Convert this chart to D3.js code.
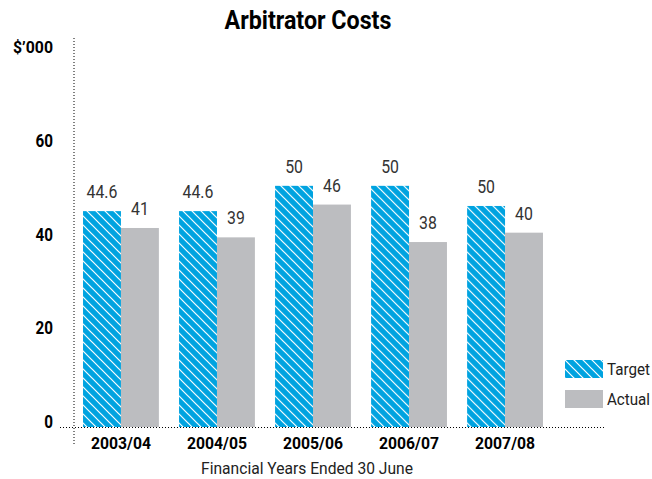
<!DOCTYPE html>
<html>
<head>
<meta charset="utf-8">
<script src="https://cdn.jsdelivr.net/npm/d3@7"></script>
<style>
  body { margin: 0; background: #fff; }
  text { font-family: "Roboto", "Liberation Sans", sans-serif; }
</style>
</head>
<body>
<div id="chart"></div>
<script>
// data
const years = ['2003/04', '2004/05', '2005/06', '2006/07', '2007/08'];
const targetValues = [44.6, 44.6, 50, 50, 45.7];   // bar heights as drawn
const targetLabels = ['44.6', '44.6', '50', '50', '50'];
const actualValues = [41, 39, 46, 38, 40];
const actualLabels = ['41', '39', '46', '38', '40'];
const yTicks = [0, 20, 40, 60];
const seriesNames = ['Target', 'Actual'];

const width = 652, height = 479;
const blue = '#00a3e0', grey = '#bcbdc0';

const svg = d3.select('#chart').append('svg')
    .attr('width', width)
    .attr('height', height);

// squeeze text horizontally round its anchor (no condensed font here)
function narrow(sel, s) {
  sel.attr('transform', function() {
    const x0 = +this.getAttribute('x');
    return `translate(${x0},0) scale(${s},1) translate(${-x0},0)`;
  });
}
function fitWidth(sel, w) {
  sel.each(function() {
    const len = this.getComputedTextLength();
    narrow(d3.select(this), w / len);
  });
}

// hatch pattern for target bars
const defs = svg.append('defs');
const pat = defs.append('pattern')
    .attr('id', 'hatch')
    .attr('patternUnits', 'userSpaceOnUse')
    .attr('width', 9)
    .attr('height', 9);
pat.append('rect').attr('width', 9).attr('height', 9).attr('fill', blue);
pat.append('path')
    .attr('d', 'M-1,-1 L10,10 M-1,8 L1,10 M8,-1 L10,1')
    .attr('stroke', '#fff')
    .attr('stroke-width', 1.2);

const y = d3.scaleLinear().domain([0, 60]).range([420, 139]);
const baseY = y(0) + 7;   // dotted axis line sits a little below zero

const x = d3.scaleBand()
    .domain(years)
    .range([74, 552])
    .paddingInner(0.21)
    .paddingOuter(0.094);

const xSub = d3.scaleBand()
    .domain(seriesNames)
    .range([0, x.bandwidth()]);

// title
svg.append('text')
  .attr('x', 308)
  .attr('y', 29)
  .attr('text-anchor', 'middle')
  .attr('font-size', 26)
  .attr('font-weight', 'bold')
  .attr('fill', '#000')
  .text('Arbitrator Costs')
  .call(fitWidth, 167);

// y axis unit
svg.append('text')
  .attr('x', 53)
  .attr('y', 53)
  .attr('text-anchor', 'end')
  .attr('font-size', 17)
  .attr('font-weight', 'bold')
  .text('$\u2019000')
  .call(fitWidth, 40);

// y tick labels
svg.selectAll('.ytick')
  .data(yTicks)
  .join('text')
    .attr('class', 'ytick')
    .attr('x', 53)
    .attr('y', d => y(d) + 2)
    .attr('dy', '0.35em')
    .attr('text-anchor', 'end')
    .attr('font-size', 17.5)
    .attr('font-weight', 'bold')
    .text(d => d)
    .call(narrow, 0.87);

// dotted axes
svg.append('line')
  .attr('x1', 74).attr('x2', 74)
  .attr('y1', 38).attr('y2', 444)
  .attr('stroke', '#000')
  .attr('stroke-width', 1)
  .attr('stroke-dasharray', '1,2');

svg.append('line')
  .attr('x1', 60).attr('x2', 604)
  .attr('y1', baseY + 0.5).attr('y2', baseY + 0.5)
  .attr('stroke', '#000')
  .attr('stroke-width', 1)
  .attr('stroke-dasharray', '1,2');

const groups = svg.selectAll('.grp')
  .data(years.map((yr, i) => ({
    year: yr,
    bars: [
      {name: 'Target', v: targetValues[i], label: targetLabels[i]},
      {name: 'Actual', v: actualValues[i], label: actualLabels[i]}
    ]
  })))
  .join('g')
    .attr('class', 'grp')
    .attr('transform', d => `translate(${x(d.year)},0)`);

groups.selectAll('rect')
  .data(d => d.bars)
  .join('rect')
    .attr('x', d => xSub(d.name))
    .attr('y', d => y(d.v))
    .attr('width', xSub.bandwidth())
    .attr('height', d => baseY - y(d.v))
    .attr('fill', d => d.name === 'Target' ? 'url(#hatch)' : grey);

groups.selectAll('.val')
  .data(d => d.bars)
  .join('text')
    .attr('class', 'val')
    .attr('x', d => xSub(d.name) + xSub.bandwidth() / 2)
    .attr('y', d => y(d.v) - 13)
    .attr('text-anchor', 'middle')
    .attr('font-size', 18)
    .attr('fill', '#333')
    .text(d => d.label)
    .call(narrow, 0.88);

// x category labels
svg.selectAll('.xlab')
  .data(years)
  .join('text')
    .attr('class', 'xlab')
    .attr('x', d => x(d) + x.bandwidth() / 2)
    .attr('y', 449)
    .attr('text-anchor', 'middle')
    .attr('font-size', 17)
    .attr('font-weight', 'bold')
    .text(d => d)
    .call(fitWidth, 60);

svg.append('text')
  .attr('x', 307)
  .attr('y', 474)
  .attr('text-anchor', 'middle')
  .attr('font-size', 16)
  .attr('fill', '#222')
  .text('Financial Years Ended 30 June')
  .call(fitWidth, 212);

// legend
const legend = svg.append('g').attr('transform', 'translate(565,360)');
legend.selectAll('rect')
  .data(seriesNames)
  .join('rect')
    .attr('x', 0)
    .attr('y', (d, i) => i * 30)
    .attr('width', 38)
    .attr('height', 18)
    .attr('fill', d => d === 'Target' ? 'url(#hatch)' : grey);
legend.selectAll('text')
  .data(seriesNames)
  .join('text')
    .attr('x', 42)
    .attr('y', (d, i) => i * 30 + 9)
    .attr('dy', '0.35em')
    .attr('font-size', 17)
    .attr('fill', '#222')
    .text(d => d)
    .call(fitWidth, 43);
</script>
</body>
</html>
